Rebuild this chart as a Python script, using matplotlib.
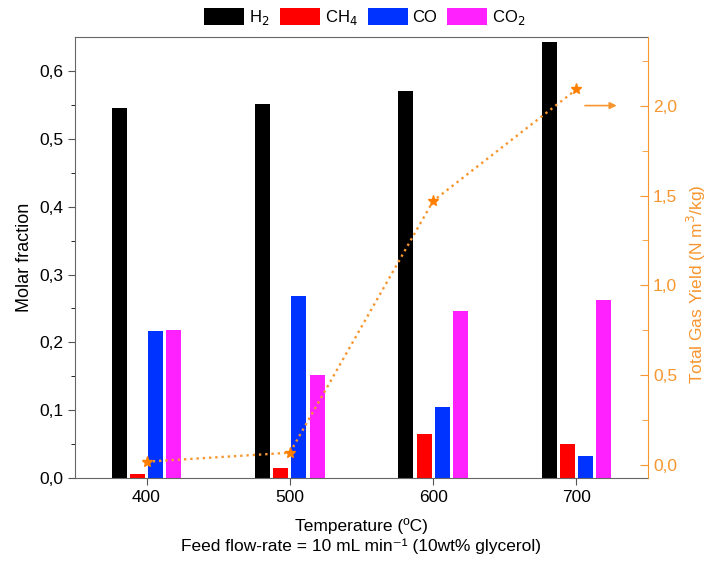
import numpy as np
import matplotlib
matplotlib.use("Agg")
import matplotlib.pyplot as plt

plt.rcParams['font.family'] = ['Liberation Sans', 'DejaVu Sans']

temps = [400, 500, 600, 700]
h2 = [0.546, 0.551, 0.570, 0.643]
ch4 = [0.005, 0.015, 0.065, 0.050]
co = [0.216, 0.269, 0.105, 0.033]
co2 = [0.218, 0.152, 0.246, 0.262]
gas_yield = [0.02, 0.07, 1.47, 2.09]

orange = '#F7962F'
series = [('H$_2$', h2, '#000000'), ('CH$_4$', ch4, '#FF0000'),
          ('CO', co, '#0033FF'), ('CO$_2$', co2, '#FF22FF')]
offsets = [-19, -6.3, 6.3, 19]
width = 10.5

fig = plt.figure(figsize=(7.13, 5.73), dpi=100)
ax = fig.add_axes([0.105, 0.166, 0.804, 0.769])

x = np.array(temps)
for (name, vals, col), off in zip(series, offsets):
    ax.bar(x + off, vals, width, color=col, label=name, edgecolor='none')

ax.set_xlim(350, 750)
ax.set_ylim(0, 0.65)
ax.set_xticks(temps)
ax.set_yticks(np.arange(0, 0.61, 0.1))
ax.set_yticks(np.arange(0.05, 0.65, 0.1), minor=True)
ax.set_yticklabels([f"{v:.1f}".replace('.', ',') for v in np.arange(0, 0.61, 0.1)])
ax.tick_params(axis='both', labelsize=12.5, direction='out', color='#555555')
ax.tick_params(axis='y', which='major', length=5)
ax.tick_params(axis='y', which='minor', length=3)
ax.tick_params(axis='x', length=5)
for s in ['top', 'left', 'bottom']:
    ax.spines[s].set_color('#666666')
ax.spines['right'].set_visible(False)
ax.set_ylabel('Molar fraction', fontsize=13)
ax.set_xlabel('Temperature (ºC)\nFeed flow-rate = 10 mL min⁻¹ (10wt% glycerol)',
              fontsize=12.5, linespacing=1.35, labelpad=10)

ax2 = ax.twinx()
ax2.plot(temps, gas_yield, linestyle=':', color=orange, lw=1.7, marker='*',
         markersize=8, markerfacecolor='#FF7F00', markeredgecolor='#FF7F00')
ax2.set_ylim(-0.07, 2.38)
ax2.set_yticks([0, 0.5, 1.0, 1.5, 2.0])
ax2.set_yticks([0.25, 0.75, 1.25, 1.75, 2.25], minor=True)
ax2.set_yticklabels(['0,0', '0,5', '1,0', '1,5', '2,0'])
ax2.tick_params(axis='y', which='both', direction='in', color=orange,
                labelcolor=orange, labelsize=12.5)
ax2.tick_params(axis='y', which='major', length=6)
ax2.tick_params(axis='y', which='minor', length=4)
for s in ['top', 'left', 'bottom']:
    ax2.spines[s].set_visible(False)
ax2.spines['right'].set_color(orange)
ax2.set_ylabel('Total Gas Yield (N m$^3$/kg)', color=orange, fontsize=12.5)
ax2.yaxis.set_label_coords(1.065, 0.44)
ax2.annotate('', xy=(730, 2.0), xytext=(704, 2.0),
             arrowprops=dict(arrowstyle='-|>', color=orange, lw=1.2))

ax.legend(loc='center', bbox_to_anchor=(0.512, 0.969), bbox_transform=fig.transFigure,
          ncol=4, frameon=False, fontsize=12, handlelength=2.4, handleheight=1.2,
          handletextpad=0.3, columnspacing=0.6)

fig.savefig('out.png', dpi=100)
